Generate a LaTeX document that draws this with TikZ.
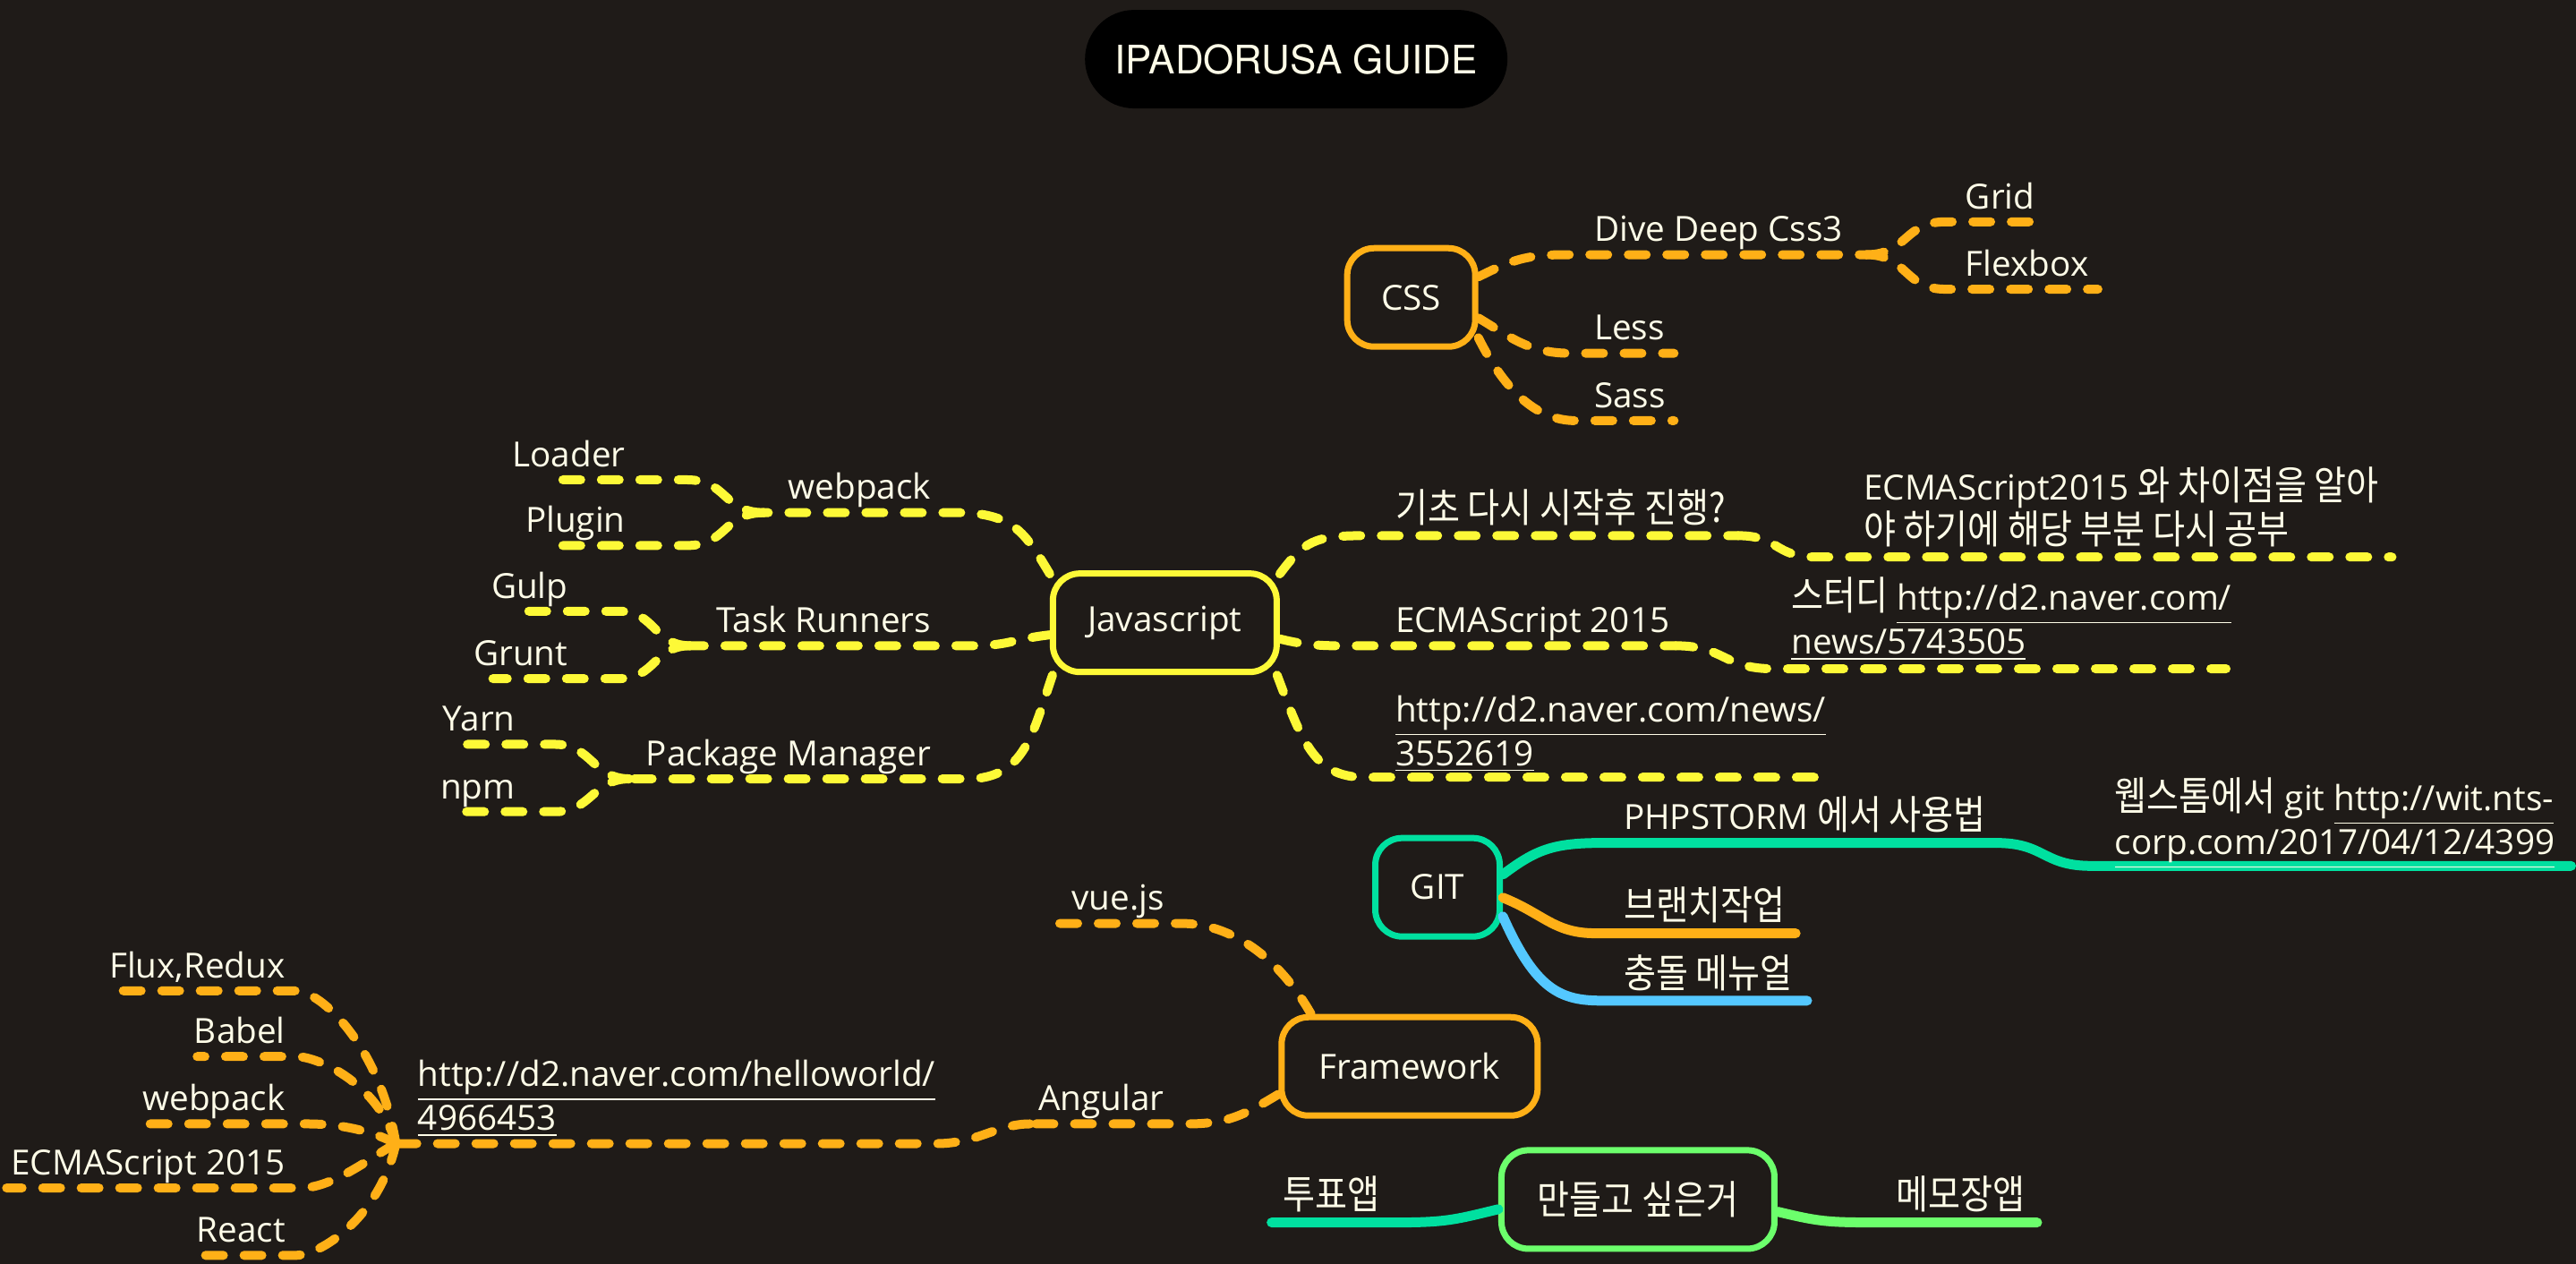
\documentclass[tikz,border=0pt]{standalone}
\usepackage{fontspec}
\setmainfont{Open Sans}
\newfontfamily\krfont[Scale=1.15, FakeStretch=0.88]{Noto Sans CJK KR}
\newfontfamily\titlefont{TeX Gyre Heros}
\newcommand\kor[1]{{\krfont #1}}
\newcommand\txtsize{\fontsize{11}{14}\selectfont}

\definecolor{bg}{RGB}{31,27,24}
\definecolor{txt}{RGB}{255,253,232}
\definecolor{orng}{RGB}{255,176,23}
\definecolor{ylw}{RGB}{253,249,55}
\definecolor{gitteal}{RGB}{0,224,160}
\definecolor{sky}{RGB}{84,200,255}
\definecolor{lime}{RGB}{108,255,108}

\tikzset{
  topic/.style={draw, line width=0.7mm, rounded corners=3mm, fill=bg, text=txt,
    font=\txtsize, minimum height=11mm, inner sep=0pt},
  dashline/.style={line width=1mm, line cap=round, dash pattern=on 2mm off 2.3mm},
  solidline/.style={line width=1.1mm, line cap=round},
  leafl/.style={anchor=base east, text=txt, font=\txtsize, inner sep=0pt},
  leafr/.style={anchor=base west, text=txt, font=\txtsize, inner sep=0pt, align=left}
}

\begin{document}
\begin{tikzpicture}[x=0.18355mm, y=-0.18355mm]

% Fondo
\fill[bg] (0,0) rectangle (1568,769);
\useasboundingbox (0,0) rectangle (1568,769);

% Título
\node[fill=black, rounded corners=5.5mm, minimum width=47.2mm, minimum height=11mm,
  text=txt, font=\titlefont\fontsize{12.5}{15}\selectfont] (guide) at (789,36) {IPADORUSA GUIDE};

% Temas
\node[topic, draw=orng, minimum width=14.3mm] (css) at (859,181) {CSS};
\node[topic, draw=ylw, minimum width=25mm] (js) at (709,379) {Javascript};
\node[topic, draw=gitteal, minimum width=13.9mm] (git) at (875,540) {GIT};
\node[topic, draw=orng, minimum width=28.6mm] (fw) at (858,649) {Framework};
\node[topic, draw=lime, minimum width=30.5mm] (want) at (997,730) {\kor{만들고 싶은거}};

% CSS
\coordinate (ddL) at (953,155); \coordinate (ddR) at (1136,155);
\coordinate (grL) at (1184,135); \coordinate (grR) at (1241,135);
\coordinate (fxL) at (1184,176); \coordinate (fxR) at (1277,176);
\coordinate (leL) at (956,215); \coordinate (leR) at (1019,215);
\coordinate (saL) at (959,256); \coordinate (saR) at (1019,256);
\begin{scope}[dashline, orng]
  \draw (css.17) .. controls +(20,-10) and +(-25,0) .. (ddL) -- (ddR);
  \draw (ddR) .. controls +(25,0) and +(-25,0) .. (grL) -- (grR);
  \draw (ddR) .. controls +(25,0) and +(-25,0) .. (fxL) -- (fxR);
  \draw (css.-17) .. controls +(20,12) and +(-25,0) .. (leL) -- (leR);
  \draw (css.-31) .. controls +(15,30) and +(-25,0) .. (saL) -- (saR);
\end{scope}
\node[leafr] (dive) at (970,147) {Dive Deep Css3};
\node[leafr] (grid) at (1196,127) {Grid};
\node[leafr] (flex) at (1196,168) {Flexbox};
\node[leafr] (less) at (970,207) {Less};
\node[leafr] (sass) at (970,248) {Sass};

% Javascript, izquierda
\coordinate (wpR) at (582,312); \coordinate (wpL) at (465,312);
\coordinate (ldR) at (418,292); \coordinate (ldL) at (340,292);
\coordinate (plR) at (418,332); \coordinate (plL) at (342,332);
\coordinate (trR) at (590,393); \coordinate (trL) at (420,393);
\coordinate (guR) at (377,372); \coordinate (guL) at (318,372);
\coordinate (gnR) at (377,413); \coordinate (gnL) at (300,413);
\coordinate (pmR) at (589,474); \coordinate (pmL) at (383,474);
\coordinate (yaR) at (338,453); \coordinate (yaL) at (280,453);
\coordinate (npR) at (338,494); \coordinate (npL) at (280,494);
\begin{scope}[dashline, ylw]
  \draw (js.157) .. controls +(-15,-25) and +(35,0) .. (wpR) -- (wpL);
  \draw (wpL) .. controls +(-25,0) and +(25,0) .. (ldR) -- (ldL);
  \draw (wpL) .. controls +(-25,0) and +(25,0) .. (plR) -- (plL);
  \draw (js.186) .. controls +(-25,3) and +(25,0) .. (trR) -- (trL);
  \draw (trL) .. controls +(-22,0) and +(22,0) .. (guR) -- (guL);
  \draw (trL) .. controls +(-22,0) and +(22,0) .. (gnR) -- (gnL);
  \draw (js.205) .. controls +(-12,35) and +(35,0) .. (pmR) -- (pmL);
  \draw (pmL) .. controls +(-22,0) and +(22,0) .. (yaR) -- (yaL);
  \draw (pmL) .. controls +(-22,0) and +(22,0) .. (npR) -- (npL);
\end{scope}
\node[leafl] (webpack) at (567,304) {webpack};
\node[leafl] (loader) at (381,284) {Loader};
\node[leafl] (plugin) at (381,324) {Plugin};
\node[leafl] (task) at (567,385) {Task Runners};
\node[leafl] (gulp) at (346,364) {Gulp};
\node[leafl] (grunt) at (346,405) {Grunt};
\node[leafl] (pkg) at (567,466) {Package Manager};
\node[leafl] (yarn) at (314,445) {Yarn};
\node[leafl] (npm) at (314,486) {npm};

% Javascript, derecha
\coordinate (kiL) at (830,326); \coordinate (kiR) at (1058,326);
\coordinate (ecL) at (1105,339); \coordinate (ecR) at (1456,339);
\coordinate (esL) at (835,393); \coordinate (esR) at (1020,393);
\coordinate (stL) at (1079,407); \coordinate (stR) at (1355,407);
\coordinate (u1L) at (830,473); \coordinate (u1R) at (1106,473);
\begin{scope}[dashline, ylw]
  \draw (js.23) .. controls +(15,-20) and +(-30,0) .. (kiL) -- (kiR);
  \draw (kiR) .. controls +(25,0) and +(-25,0) .. (ecL) -- (ecR);
  \draw (js.-8) .. controls +(20,5) and +(-25,0) .. (esL) -- (esR);
  \draw (esR) .. controls +(30,0) and +(-30,0) .. (stL) -- (stR);
  \draw (js.-25) .. controls +(15,40) and +(-30,0) .. (u1L) -- (u1R);
\end{scope}
\node[leafr] (basics) at (849,318) {\kor{기초 다시 시작후 진행?}};
\node[leafr] (diff) at (1134,331) {ECMAScript2015 \kor{와 차이점을 알아}\\\kor{야 하기에 해당 부분 다시 공부}};
\node[leafr] (es) at (849,385) {ECMAScript 2015};
\node[leafr] (study) at (1090,398) {\kor{스터디} \underline{http://d2.naver.com/}\\\underline{news/5743505}};
\node[leafr] (news) at (849,466) {\underline{http://d2.naver.com/news/}\\\underline{3552619}};

% GIT
\coordinate (phL) at (975,513); \coordinate (phR) at (1215,513);
\coordinate (wsL) at (1273,527); \coordinate (wsR) at (1565,527);
\coordinate (brL) at (971,568); \coordinate (brR) at (1093,568);
\coordinate (chL) at (975,609); \coordinate (chR) at (1100,609);
\draw[solidline, gitteal] (git.11) .. controls +(20,-15) and +(-30,0) .. (phL) -- (phR);
\draw[solidline, gitteal] (phR) .. controls +(30,0) and +(-30,0) .. (wsL) -- (wsR);
\draw[solidline, orng] (git.-9) .. controls +(25,10) and +(-25,0) .. (brL) -- (brR);
\draw[solidline, sky] (git.-24) .. controls +(20,45) and +(-25,0) .. (chL) -- (chR);
\node[leafr] (php) at (988,505) {PHPSTORM \kor{에서 사용법}};
\node[leafr] (wstorm) at (1287,520) {\kor{웹스톰에서} git \underline{http://wit.nts-}\\\underline{corp.com/2017/04/12/4399}};
\node[leafr] (branch) at (988,560) {\kor{브랜치작업}};
\node[leafr] (merge) at (988,601) {\kor{충돌 메뉴얼}};

% Framework
\coordinate (vuR) at (719,562); \coordinate (vuL) at (645,562);
\coordinate (anR) at (723,684); \coordinate (anL) at (627,684);
\coordinate (hwR) at (570,696); \coordinate (hwL) at (241,696);
\coordinate (flR) at (180,603); \coordinate (flL) at (65,603);
\coordinate (baR) at (180,643); \coordinate (baL) at (120,643);
\coordinate (wbR) at (187,684); \coordinate (wbL) at (84,684);
\coordinate (e2R) at (183,723); \coordinate (e2L) at (4,723);
\coordinate (reR) at (180,764); \coordinate (reL) at (115,764);
\begin{scope}[dashline, orng]
  \draw (fw.152) .. controls +(-20,-35) and +(30,0) .. (vuR) -- (vuL);
  \draw (fw.192) .. controls +(-20,12) and +(25,0) .. (anR) -- (anL);
  \draw (anL) .. controls +(-20,0) and +(25,0) .. (hwR) -- (hwL);
  \draw (hwL) .. controls +(-10,-60) and +(15,0) .. (flR) -- (flL);
  \draw (hwL) .. controls +(-10,-35) and +(15,0) .. (baR) -- (baL);
  \draw (hwL) .. controls +(-15,-8) and +(20,0) .. (wbR) -- (wbL);
  \draw (hwL) .. controls +(-15,8) and +(20,0) .. (e2R) -- (e2L);
  \draw (hwL) .. controls +(-10,45) and +(15,0) .. (reR) -- (reL);
\end{scope}
\node[leafl] (vue) at (709,554) {vue.js};
\node[leafl] (angular) at (709,676) {Angular};
\node[leafr] (hello) at (254,688) {\underline{http://d2.naver.com/helloworld/}\\\underline{4966453}};
\node[leafl] (flux) at (174,595) {Flux,Redux};
\node[leafl] (babel) at (174,635) {Babel};
\node[leafl] (wpack) at (174,676) {webpack};
\node[leafl] (es2015) at (174,715) {ECMAScript 2015};
\node[leafl] (react) at (174,756) {React};

% Ideas
\coordinate (tuR) at (851,744); \coordinate (tuL) at (774,744);
\coordinate (meL) at (1142,744); \coordinate (meR) at (1240,744);
\draw[solidline, gitteal] (want.184) .. controls +(-25,6) and +(30,0) .. (tuR) -- (tuL);
\draw[solidline, lime] (want.-5) .. controls +(25,6) and +(-30,0) .. (meL) -- (meR);
\node[leafl] (vote) at (840,736) {\kor{투표앱}};
\node[leafr] (memo) at (1154,736) {\kor{메모장앱}};

\end{tikzpicture}
\end{document}
